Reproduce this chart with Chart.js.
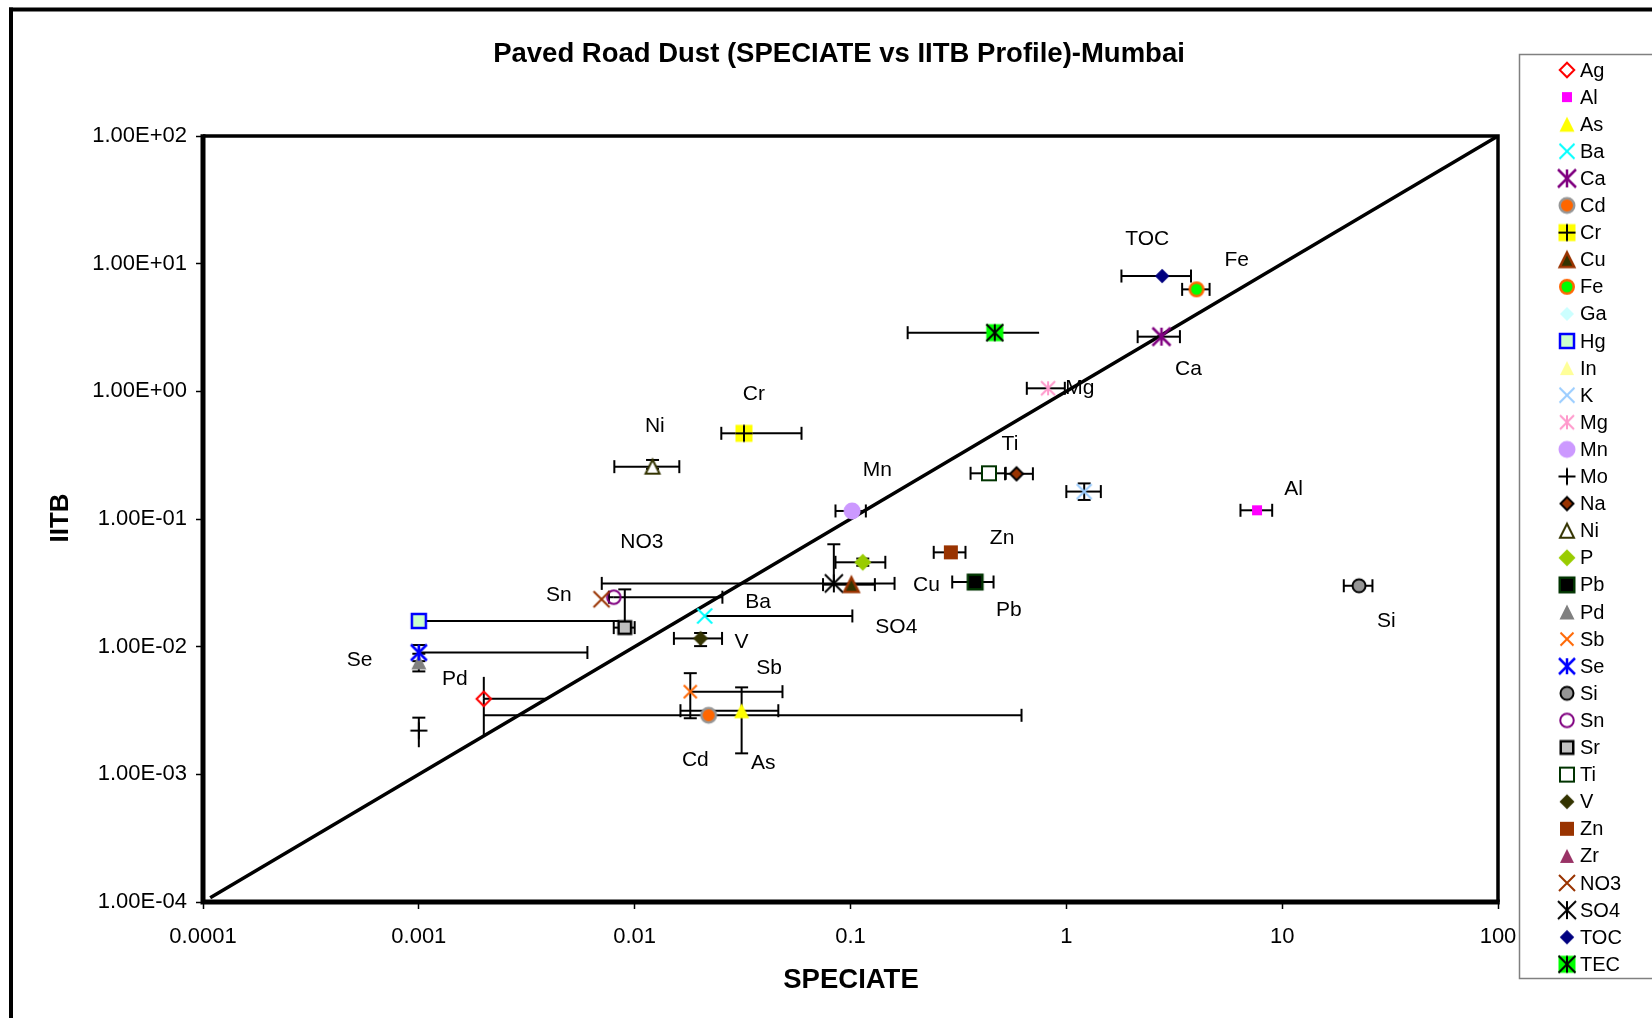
<!DOCTYPE html>
<html><head><meta charset="utf-8">
<script src="https://cdn.jsdelivr.net/npm/chart.js@4.4.1/dist/chart.umd.min.js"></script>
<style>html,body{margin:0;padding:0;background:#fff;}canvas{display:block;}</style>
</head><body>
<canvas id="c" width="1652" height="1018"></canvas>
<script>
// ---------------- DATA ----------------
const species = ['Ag','Al','As','Ba','Ca','Cd','Cr','Cu','Fe','Ga','Hg','In','K','Mg','Mn','Mo','Na','Ni','P','Pb','Pd','Sb','Se','Si','Sn','Sr','Ti','V','Zn','Zr','NO3','SO4','TOC','TEC'];
// SPECIATE (x) values
const speciate = [0.002, 7.65, 0.0313, 0.0211, 2.76, 0.022, 0.0321, 0.101, 4.01, null,
                  0.001, null, 1.21, 0.823, 0.1017, 0.001, 0.588, 0.0121, 0.114, 0.378,
                  0.001, 0.0181, 0.001, 22.7, 0.008, 0.009, 0.438, 0.0202, 0.2917, null,
                  0.00702, 0.0837, 2.78, 0.466];
// IITB (y) values
const iitb = [0.0039, 0.117, 0.00315, 0.0174, 2.68, 0.0029, 0.469, 0.0306, 6.29, null,
              0.0159, null, 0.164, 1.056, 0.1156, 0.0022, 0.226, 0.257, 0.0458, 0.0321,
              0.0076, 0.00444, 0.009, 0.030, 0.0244, 0.0141, 0.228, 0.0116, 0.0548, null,
              0.0235, 0.0313, 8.0, 2.88];
// error bar ends (null = none)
const speciateLo = [null, 6.41, 0.0163, null, 2.14, 0.002, 0.0252, 0.0746, 3.44, null,
                    null, null, 1.0, 0.656, 0.0852, null, 0.52, 0.00805, 0.0852, 0.296,
                    null, null, null, 19.3, 0.0076, 0.008, 0.36, 0.0152, 0.243, null,
                    null, 0.00704, 1.80, 0.184];
const speciateHi = [0.0039, 8.99, 0.0463, 0.102, 3.36, 0.62, 0.0593, 0.1297, 4.61, null,
                    0.0085, null, 1.445, 0.984, 0.1178, null, 0.70, 0.0161, 0.145, 0.46,
                    null, 0.0484, 0.00604, 26.2, 0.0255, 0.010, 0.524, 0.0254, 0.341, null,
                    null, 0.160, 3.78, 0.748];
const iitbLo = [0.002, null, 0.00146, null, null, null, null, null, null, null,
                null, null, 0.141, null, null, 0.00163, null, 0.247, 0.043, null,
                0.0064, 0.00275, 0.0077, null, null, null, 0.215, 0.0101, null, null,
                null, null, null, null];
const iitbHi = [0.0058, null, 0.0048, null, null, null, null, null, null, null,
                null, null, 0.190, null, null, 0.00278, null, 0.29, 0.049, null,
                0.0088, 0.0062, 0.0103, null, null, 0.0281, 0.242, 0.0128, null, null,
                null, 0.0634, null, null];
const capless = ['Ag:xHi','Ag:yLo','Ag:yHi','Cd:xLo','TEC:xHi','Hg:xHi','Mo:yLo'];
// 1:1 line
const diagX = [0.000108, 100];
const diagY = [0.000108, 100];
// axis ticks
const xTickValues = [0.0001, 0.001, 0.01, 0.1, 1, 10, 100];
const xTickLabels = ['0.0001','0.001','0.01','0.1','1','10','100'];
const yTickValues = [1e-4, 1e-3, 1e-2, 1e-1, 1, 10, 100];
const yTickLabels = ['1.00E-04','1.00E-03','1.00E-02','1.00E-01','1.00E+00','1.00E+01','1.00E+02'];
// text annotations (anchored in data units)
const annotText = ['TOC','Fe','Ca','Mg','Ti','Al','Si','Zn','Cu','Pb','SO4','Ba','V','Sb','Cd','As','Mn','Cr','Ni','NO3','Sn','Se','Pd'];
const annotX = [2.37, 6.16, 3.68, 1.155, 0.548, 11.3, 30.4, 0.504, 0.225, 0.542, 0.163, 0.0373, 0.0313, 0.042, 0.0191, 0.0394, 0.133, 0.0357, 0.0124, 0.0108, 0.00445, 0.000532, 0.00147];
const annotY = [15.5, 10.6, 1.50, 1.055, 0.387, 0.172, 0.0157, 0.0706, 0.0301, 0.0194, 0.0141, 0.0223, 0.0109, 0.00678, 0.0013, 0.00122, 0.239, 0.953, 0.535, 0.0657, 0.0254, 0.00787, 0.00556];

const titleText = 'Paved Road Dust (SPECIATE vs IITB Profile)-Mumbai';
const xTitle = 'SPECIATE';
const yTitle = 'IITB';

// ---------------- STYLES ----------------
const FONT = '"Liberation Sans", Arial, sans-serif';
const markerStyles = {
  Ag:{shape:'diamond', size:16.5, stroke:'#FF0000', lw:2},
  Al:{shape:'square', size:10, fill:'#FF00FF'},
  As:{shape:'triangle', size:15, fill:'#FFFF00'},
  Ba:{shape:'x', size:15, stroke:'#00FFFF', lw:2},
  Ca:{shape:'star', size:18, stroke:'#800080', lw:2.5},
  Cd:{shape:'circle', size:17, fill:'#FF6600', stroke:'#969696', lw:2.5},
  Cr:{shape:'squareplus', size:17, fill:'#FFFF00', stroke:'#000000', lw:2},
  Cu:{shape:'triangle', size:17, fill:'#333300', stroke:'#993300', lw:2.5},
  Fe:{shape:'circle', size:16, fill:'#00FF00', stroke:'#FF6600', lw:2.5},
  Ga:{shape:'diamond', size:14, fill:'#CCFFFF'},
  Hg:{shape:'square', size:16.5, fill:'#CCFFCC', stroke:'#0000FF', lw:2.5},
  In:{shape:'triangle', size:14, fill:'#FFFF99'},
  K:{shape:'x', size:15, stroke:'#99CCFF', lw:2},
  Mg:{shape:'star', size:14, stroke:'#FF99CC', lw:2},
  Mn:{shape:'circle', size:17, fill:'#CC99FF'},
  Mo:{shape:'plus', size:17, stroke:'#000000', lw:2},
  Na:{shape:'diamond', size:15, fill:'#993300', stroke:'#000000', lw:2},
  Ni:{shape:'triangle', size:16, fill:'#FFFFFF', stroke:'#333300', lw:2},
  P:{shape:'diamond', size:17, fill:'#99CC00'},
  Pb:{shape:'square', size:17, fill:'#000000', stroke:'#003300', lw:2.5},
  Pd:{shape:'triangle', size:15, fill:'#808080'},
  Sb:{shape:'x', size:13, stroke:'#FF6600', lw:2},
  Se:{shape:'star', size:16, stroke:'#0000FF', lw:2.5},
  Si:{shape:'circle', size:15, fill:'#969696', stroke:'#000000', lw:2},
  Sn:{shape:'circle', size:15.5, stroke:'#800080', lw:2},
  Sr:{shape:'square', size:15, fill:'#C0C0C0', stroke:'#000000', lw:2.5},
  Ti:{shape:'square', size:16, fill:'#FFFFFF', stroke:'#003300', lw:2},
  V:{shape:'diamond', size:15, fill:'#333300'},
  Zn:{shape:'square', size:14, fill:'#993300'},
  Zr:{shape:'triangle', size:14, fill:'#993366'},
  NO3:{shape:'x', size:16, stroke:'#993300', lw:2},
  SO4:{shape:'star', size:18, stroke:'#000000', lw:2},
  TOC:{shape:'diamond', size:14.5, fill:'#000080'},
  TEC:{shape:'squarestar', size:17, fill:'#00FF00', stroke:'#000000', lw:2}
};

function makeMarker(m){
  const W = 26, c = W/2, h = m.size/2, lw = m.lw || 2;
  const cv = document.createElement('canvas'); cv.width = W; cv.height = W;
  const g = cv.getContext('2d');
  g.lineWidth = lw; g.lineCap = 'butt'; g.lineJoin = 'miter';
  const r = h - (m.stroke ? lw/2 : 0);
  const fs = () => { if (m.fill) { g.fillStyle = m.fill; g.fill(); } if (m.stroke) { g.strokeStyle = m.stroke; g.lineWidth = lw; g.stroke(); } };
  const lines = (segs) => { g.beginPath(); segs.forEach(([a,b,d,e]) => { g.moveTo(c+a, c+b); g.lineTo(c+d, c+e); }); g.strokeStyle = m.stroke; g.lineWidth = lw; g.stroke(); };
  const X = [[-h,-h,h,h],[-h,h,h,-h]], PLUS = [[-h,0,h,0],[0,-h,0,h]];
  switch (m.shape) {
    case 'circle': g.beginPath(); g.arc(c, c, r, 0, 2*Math.PI); fs(); break;
    case 'square': g.beginPath(); g.rect(c-r, c-r, 2*r, 2*r); fs(); break;
    case 'diamond': g.beginPath(); g.moveTo(c, c-r); g.lineTo(c+r, c); g.lineTo(c, c+r); g.lineTo(c-r, c); g.closePath(); fs(); break;
    case 'triangle': g.beginPath(); g.moveTo(c, c-r); g.lineTo(c+r, c+r); g.lineTo(c-r, c+r); g.closePath(); fs(); break;
    case 'x': lines(X); break;
    case 'star': lines(X.concat([[0,-h,0,h]])); break;
    case 'plus': lines(PLUS); break;
    case 'squareplus': g.fillStyle = m.fill; g.fillRect(c-h, c-h, 2*h, 2*h); lines(PLUS); break;
    case 'squarestar': g.fillStyle = m.fill; g.fillRect(c-h, c-h, 2*h, 2*h); lines(X.concat([[0,-h,0,h]])); break;
  }
  return cv;
}
const markers = species.map(s => makeMarker(markerStyles[s]));

// ---------------- DATASETS ----------------
const datasets = [{
  type: 'line', label: '1:1',
  data: diagX.map((v, i) => ({x: v, y: diagY[i]})),
  borderColor: '#000', borderWidth: 3.5, pointRadius: 0, fill: false, order: 1000
}];
species.forEach((s, i) => {
  datasets.push({
    type: 'scatter', label: s,
    data: speciate[i] == null ? [] : [{x: speciate[i], y: iitb[i]}],
    pointStyle: markers[i], pointRadius: 8, pointHoverRadius: 8, order: 100 - i
  });
});

// ---------------- PLUGINS ----------------
const errorBars = {
  id: 'errorBars',
  beforeDatasetsDraw(chart) {
    const {ctx, chartArea: a} = chart, xs = chart.scales.x, ys = chart.scales.y;
    const cap = 6.5;
    ctx.save();
    ctx.beginPath(); ctx.rect(a.left, a.top, a.right - a.left, a.bottom - a.top); ctx.clip();
    ctx.strokeStyle = '#000'; ctx.lineWidth = 2; ctx.lineCap = 'butt';
    const seg = (x1, y1, x2, y2) => { ctx.beginPath(); ctx.moveTo(x1, y1); ctx.lineTo(x2, y2); ctx.stroke(); };
    species.forEach((s, i) => {
      if (speciate[i] == null) return;
      const px = xs.getPixelForValue(speciate[i]), py = ys.getPixelForValue(iitb[i]);
      [['xLo', speciateLo[i]], ['xHi', speciateHi[i]]].forEach(([k, v]) => {
        if (v == null) return;
        const q = xs.getPixelForValue(v);
        seg(px, py, q, py);
        if (!capless.includes(s + ':' + k)) seg(q, py - cap, q, py + cap);
      });
      [['yLo', iitbLo[i]], ['yHi', iitbHi[i]]].forEach(([k, v]) => {
        if (v == null) return;
        const q = ys.getPixelForValue(v);
        seg(px, py, px, q);
        if (!capless.includes(s + ':' + k)) seg(px - cap, q, px + cap, q);
      });
    });
    ctx.restore();
  }
};

const decorations = {
  id: 'decorations',
  afterDraw(chart) {
    const {ctx, chartArea: a} = chart, xs = chart.scales.x, ys = chart.scales.y;
    ctx.save();
    // annotations
    ctx.fillStyle = '#000'; ctx.font = '21px ' + FONT; ctx.textAlign = 'center'; ctx.textBaseline = 'middle';
    annotText.forEach((t, i) => ctx.fillText(t, xs.getPixelForValue(annotX[i]), ys.getPixelForValue(annotY[i])));
    // plot frame
    ctx.strokeStyle = '#000';
    ctx.lineWidth = 3.5;
    ctx.beginPath(); ctx.moveTo(a.left, a.top); ctx.lineTo(a.right, a.top); ctx.lineTo(a.right, a.bottom); ctx.stroke();
    ctx.lineWidth = 5;
    ctx.beginPath(); ctx.moveTo(a.left, a.top - 1.75); ctx.lineTo(a.left, a.bottom); ctx.lineTo(a.right + 1.75, a.bottom); ctx.stroke();
    // outer chart frame
    ctx.fillStyle = '#000';
    ctx.fillRect(9, 7.5, chart.width, 4);
    ctx.fillRect(9, 7.5, 4, chart.height);
    // title and axis titles
    ctx.textAlign = 'center'; ctx.textBaseline = 'middle';
    ctx.font = 'bold 27.5px ' + FONT;
    ctx.fillText(titleText, 839, 54);
    ctx.font = 'bold 27.5px ' + FONT;
    ctx.fillText(xTitle, 851, 980);
    ctx.font = 'bold 26px ' + FONT;
    ctx.save(); ctx.translate(61, 518); ctx.rotate(-Math.PI/2); ctx.fillText(yTitle, 0, 0); ctx.restore();
    // legend
    ctx.fillStyle = '#fff'; ctx.fillRect(1519.5, 54.5, 200, 924);
    ctx.strokeStyle = '#808080'; ctx.lineWidth = 1.5; ctx.strokeRect(1519.5, 54.5, 200, 924);
    ctx.fillStyle = '#000'; ctx.font = '20px ' + FONT; ctx.textAlign = 'left'; ctx.textBaseline = 'middle';
    species.forEach((s, i) => {
      const y = 70 + i * 27.1;
      const m = markers[i];
      ctx.drawImage(m, 1567 - m.width/2, y - m.height/2);
      ctx.fillText(s, 1580, y + 1);
    });
    ctx.restore();
  }
};

// ---------------- CHART ----------------
const tickFont = {family: FONT, size: 22};
new Chart(document.getElementById('c'), {
  type: 'scatter',
  data: {datasets},
  options: {
    responsive: false, animation: false, devicePixelRatio: 1, events: [],
    layout: {padding: {left: 0, top: 136, right: 154, bottom: 0}},
    plugins: {legend: {display: false}, tooltip: {enabled: false}, title: {display: false}},
    scales: {
      x: {
        type: 'logarithmic', position: 'bottom', min: 0.0001, max: 100,
        afterBuildTicks: s => { s.ticks = xTickValues.map(v => ({value: v, major: true})); },
        afterFit: s => { s.height = 116; },
        ticks: {callback: (v, i) => xTickLabels[i], color: '#000', font: tickFont, padding: 15, maxRotation: 0, autoSkip: false},
        grid: {display: true, drawOnChartArea: false, tickLength: 7, tickColor: '#000', tickWidth: 1.5},
        border: {display: false}
      },
      y: {
        type: 'logarithmic', position: 'left', min: 0.0001, max: 100,
        afterBuildTicks: s => { s.ticks = yTickValues.map(v => ({value: v, major: true})); },
        afterFit: s => { s.width = 203; },
        ticks: {callback: (v, i) => yTickLabels[i], color: '#000', font: tickFont, padding: 9, autoSkip: false},
        grid: {display: true, drawOnChartArea: false, tickLength: 7, tickColor: '#000', tickWidth: 1.5},
        border: {display: false}
      }
    }
  },
  plugins: [errorBars, decorations]
});
</script>
</body></html>
